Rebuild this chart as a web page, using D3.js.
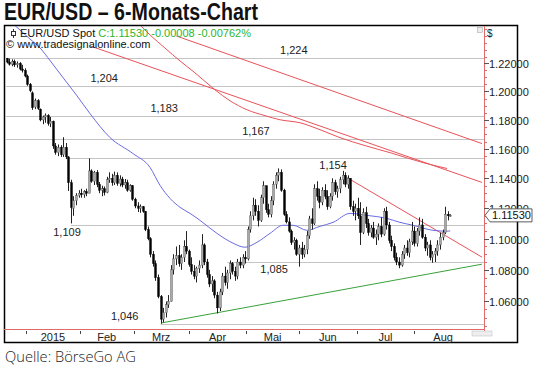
<!DOCTYPE html>
<html><head><meta charset="utf-8">
<script src="https://cdn.jsdelivr.net/npm/d3@7"></script>
<style>body{margin:0;background:#fff}svg{display:block}</style>
</head><body>
<svg id="c" width="540" height="368"></svg>
<script>
// ---------- data ----------
const barOpen = [1.2235,1.2210,1.2195,1.2215,1.2190,1.2200,1.2160,1.2150,1.2110,1.2050,
1.1990,1.1890,1.1935,1.1875,1.1800,1.1820,1.1830,1.1775,1.1790,1.1620,
1.1575,1.1610,1.1560,1.1610,1.1545,1.1370,1.1200,1.1250,1.1285,1.1300,
1.1290,1.1310,1.1300,1.1450,1.1380,1.1440,1.1360,1.1320,1.1330,1.1305,
1.1390,1.1400,1.1370,1.1420,1.1365,1.1395,1.1355,1.1370,1.1320,1.1350,
1.1260,1.1215,1.1200,1.1210,1.1180,1.1060,1.1000,1.0900,1.0840,1.0750,
1.0630,1.0490,1.0530,1.0580,1.0600,1.0800,1.0870,1.0890,1.0840,1.0880,
1.0950,1.0920,1.0835,1.0790,1.0760,1.0810,1.0830,1.0960,1.0850,1.0770,
1.0710,1.0730,1.0640,1.0560,1.0660,1.0760,1.0720,1.0780,1.0840,1.0790,
1.0760,1.0850,1.0830,1.0880,1.0870,1.1060,1.1150,1.1220,1.1180,1.1120,
1.1270,1.1350,1.1190,1.1160,1.1250,1.1360,1.1420,1.1440,1.1320,1.1160,
1.1110,1.1050,1.0975,1.0990,1.0900,1.0940,1.0900,1.0930,1.1020,1.1130,
1.1100,1.1330,1.1280,1.1240,1.1320,1.1280,1.1210,1.1280,1.1370,1.1310,
1.1330,1.1390,1.1420,1.1360,1.1400,1.1210,1.1180,1.1200,1.1150,1.1040,
1.1170,1.1100,1.1040,1.1070,1.1010,1.1030,1.1080,1.1030,1.1180,1.1090,
1.0990,1.0950,1.0880,1.0850,1.0830,1.0900,1.0940,1.0910,1.0980,1.1050,
1.0970,1.1050,1.1090,1.1010,1.0940,1.0960,1.0880,1.0900,1.0920,1.0960,
1.1010,1.1040,1.1160,1.1150];
const barHigh = [1.2240,1.2235,1.2230,1.2228,1.2215,1.2210,1.2190,1.2165,1.2120,1.2060,
1.2000,1.1950,1.1945,1.1880,1.1830,1.1845,1.1840,1.1820,1.1795,1.1640,
1.1630,1.1625,1.1680,1.1640,1.1550,1.1390,1.1280,1.1300,1.1320,1.1330,
1.1320,1.1330,1.1535,1.1460,1.1450,1.1455,1.1375,1.1350,1.1345,1.1410,
1.1440,1.1430,1.1445,1.1440,1.1420,1.1410,1.1395,1.1390,1.1360,1.1355,
1.1270,1.1240,1.1225,1.1215,1.1180,1.1080,1.1010,1.0920,1.0860,1.0770,
1.0640,1.0560,1.0600,1.0640,1.0830,1.0900,1.0950,1.0960,1.0900,1.0990,
1.1050,1.0930,1.0880,1.0830,1.0820,1.0860,1.1030,1.0970,1.0870,1.0800,
1.0760,1.0740,1.0660,1.0680,1.0780,1.0820,1.0800,1.0860,1.0850,1.0820,
1.0870,1.0880,1.0900,1.0920,1.1080,1.1180,1.1270,1.1260,1.1220,1.1290,
1.1380,1.1350,1.1230,1.1280,1.1380,1.1440,1.1467,1.1460,1.1330,1.1180,
1.1140,1.1060,1.1010,1.1000,1.0960,1.0980,1.0960,1.1050,1.1150,1.1200,
1.1360,1.1380,1.1330,1.1340,1.1360,1.1320,1.1300,1.1400,1.1390,1.1350,
1.1410,1.1450,1.1440,1.1420,1.1400,1.1250,1.1230,1.1270,1.1240,1.1200,
1.1210,1.1130,1.1090,1.1110,1.1060,1.1100,1.1140,1.1200,1.1210,1.1110,
1.1020,1.0970,1.0910,1.0880,1.0920,1.0960,1.0990,1.1000,1.1110,1.1080,
1.1070,1.1140,1.1130,1.1030,1.0980,1.0990,1.0920,1.0940,1.0990,1.1040,
1.1060,1.1210,1.1180,1.1160];
const barLow = [1.2200,1.2185,1.2180,1.2175,1.2170,1.2150,1.2135,1.2100,1.2040,1.1995,
1.1870,1.1875,1.1870,1.1790,1.1770,1.1780,1.1760,1.1750,1.1600,1.1560,
1.1550,1.1545,1.1545,1.1530,1.1315,1.1100,1.1150,1.1220,1.1270,1.1270,
1.1270,1.1280,1.1300,1.1370,1.1355,1.1340,1.1300,1.1280,1.1285,1.1300,
1.1370,1.1350,1.1355,1.1350,1.1345,1.1340,1.1330,1.1310,1.1310,1.1250,
1.1200,1.1175,1.1170,1.1170,1.1050,1.0990,1.0880,1.0820,1.0730,1.0620,
1.0462,1.0470,1.0500,1.0560,1.0600,1.0770,1.0830,1.0820,1.0800,1.0850,
1.0900,1.0820,1.0770,1.0740,1.0720,1.0780,1.0810,1.0830,1.0750,1.0690,
1.0660,1.0620,1.0525,1.0540,1.0640,1.0700,1.0680,1.0740,1.0770,1.0730,
1.0740,1.0810,1.0810,1.0840,1.0860,1.1040,1.1120,1.1150,1.1080,1.1110,
1.1230,1.1170,1.1140,1.1140,1.1220,1.1330,1.1380,1.1310,1.1150,1.1100,
1.1040,1.0960,1.0930,1.0890,1.0820,1.0870,1.0880,1.0900,1.1000,1.1060,
1.1090,1.1250,1.1200,1.1220,1.1260,1.1190,1.1200,1.1250,1.1290,1.1270,
1.1300,1.1360,1.1340,1.1330,1.1190,1.1150,1.1120,1.1130,1.0960,1.1030,
1.1070,1.1020,1.1010,1.1000,1.0960,1.0990,1.1010,1.1020,1.1060,1.0970,
1.0920,1.0860,1.0830,1.0810,1.0820,1.0870,1.0890,1.0880,1.0960,1.0950,
1.0950,1.1020,1.1000,1.0920,1.0890,1.0860,1.0845,1.0850,1.0890,1.0930,
1.0990,1.1030,1.1120,1.1145];
const barClose = [1.2210,1.2195,1.2215,1.2190,1.2200,1.2160,1.2150,1.2110,1.2050,1.2005,
1.1885,1.1935,1.1880,1.1800,1.1820,1.1830,1.1775,1.1790,1.1620,1.1575,
1.1610,1.1560,1.1610,1.1545,1.1370,1.1205,1.1250,1.1285,1.1300,1.1290,
1.1310,1.1300,1.1450,1.1380,1.1440,1.1360,1.1320,1.1330,1.1305,1.1390,
1.1400,1.1370,1.1420,1.1365,1.1395,1.1355,1.1370,1.1320,1.1350,1.1260,
1.1215,1.1200,1.1210,1.1180,1.1060,1.1000,1.0900,1.0840,1.0750,1.0630,
1.0490,1.0530,1.0580,1.0600,1.0800,1.0870,1.0890,1.0840,1.0880,1.0950,
1.0920,1.0835,1.0790,1.0760,1.0810,1.0830,1.0960,1.0850,1.0770,1.0710,
1.0730,1.0640,1.0560,1.0660,1.0760,1.0720,1.0780,1.0840,1.0790,1.0760,
1.0850,1.0830,1.0880,1.0870,1.1060,1.1150,1.1220,1.1180,1.1120,1.1270,
1.1350,1.1190,1.1160,1.1250,1.1360,1.1420,1.1440,1.1320,1.1160,1.1110,
1.1050,1.0975,1.0990,1.0900,1.0940,1.0900,1.0930,1.1020,1.1130,1.1100,
1.1330,1.1280,1.1240,1.1320,1.1280,1.1210,1.1280,1.1370,1.1310,1.1330,
1.1390,1.1420,1.1360,1.1400,1.1210,1.1180,1.1200,1.1150,1.1040,1.1170,
1.1100,1.1040,1.1070,1.1010,1.1030,1.1080,1.1030,1.1180,1.1090,1.0990,
1.0950,1.0880,1.0850,1.0830,1.0900,1.0940,1.0910,1.0980,1.1050,1.0970,
1.1050,1.1090,1.1010,1.0940,1.0960,1.0880,1.0900,1.0920,1.0960,1.1010,
1.1040,1.1160,1.1150,1.1153];

// moving averages
const maBlueIdx = [3,9,13,17,22,27.4,32.5,40.3,49.2,55.9,59.8,63.7,67.6,71.5,75.4,82,88.3,92.9,97.6,102.7,107.8,111.7,117.1,122.2,127.3,133.9,140.5,148.3,153.4,158.5,166.3,171.8,173];
const maBlueVal = [1.2480,1.2378,1.2312,1.2218,1.2097,1.1969,1.1843,1.1677,1.1568,1.1473,1.1352,1.1265,1.1206,1.1166,1.1120,1.1035,1.0971,1.0945,1.0977,1.1035,1.1088,1.1088,1.1055,1.1081,1.1107,1.1166,1.1153,1.1133,1.1107,1.1088,1.1055,1.1049,1.1052];
const maRedIdx = [51,55.9,61.7,67.6,73.4,81.2,87.1,93.7,100.7,106.6,114.4,122.2,130,139.8,149.5,162.4,171.8];
const maRedVal = [1.2500,1.2407,1.2312,1.2218,1.2133,1.2012,1.1934,1.1871,1.1830,1.1801,1.1780,1.1732,1.1677,1.1622,1.1574,1.1506,1.1466];

// trend lines: start/end bar index and price
const trendNames = ["B","C","D","support"];
const trendIdx0 = [66.1,32.5,132.7,60.2];
const trendVal0 = [1.2400,1.2327,1.1405,1.0466];
const trendIdx1 = [185.4,185.4,185.4,185.4];
const trendVal1 = [1.1636,1.1372,1.0881,1.0836];

// horizontal levels
const levelValues = [1.224,1.204,1.183,1.167,1.154,1.109,1.085,1.046];
const levelLabels = ["1,224","1,204","1,183","1,167","1,154","1,109","1,085","1,046"];
const levelStartIdx = [-1,-1,-1,-1,23,25,86,60];
const levelLabelIdx = [112,38,61.4,97.2,127.3,23.5,104.3,46];
const levelLabelBelow = [false,false,false,false,true,true,true,false];

// axes
const monthLabels = ["2015","Feb","Mrz","Apr","Mai","Jun","Jul","Aug"];
const monthStartIdx = [7.5,28.5,49.5,71,93.5,114,136.5,159];
const priceTicks = [1.06,1.08,1.10,1.12,1.14,1.16,1.18,1.20,1.22];
const priceRange = [1.0429,1.2473];
const lastPrice = 1.1153;

// ---------- drawing ----------
const svg = d3.select("#c");
const L = 5, R = 484, T = 26, B = 329;
const x = d3.scaleLinear().domain([0, barClose.length-1]).range([6.8, 450.2]);
const y = d3.scaleLog().domain(priceRange).range([B, T]);
const ff = "Liberation Sans, Arial, sans-serif";

svg.append("text").attr("x",4).attr("y",20).text("EUR/USD – 6-Monats-Chart")
  .attr("font-family",ff).attr("font-weight","bold")
  .attr("font-size",23).attr("fill","#111").attr("textLength",254).attr("lengthAdjust","spacingAndGlyphs");

svg.append("rect").attr("x",4.5).attr("y",25.5).attr("width",513).attr("height",317)
  .attr("fill","#fff").attr("stroke","#000").attr("stroke-width",1.5);

const defs = svg.append("defs");
defs.append("clipPath").attr("id","plot")
  .append("rect").attr("x",L).attr("y",T).attr("width",R-L).attr("height",B-T);
const yl = y(lastPrice);
defs.append("clipPath").attr("id","aboveMarker")
  .append("rect").attr("x",R).attr("y",0).attr("width",60).attr("height",yl-6.5);
const g = svg.append("g").attr("clip-path","url(#plot)");

// levels
levelValues.forEach((v,k)=>{
  const x0 = levelStartIdx[k] < 0 ? L : x(levelStartIdx[k]);
  g.append("line").attr("x1",x0).attr("x2",R).attr("y1",Math.round(y(v))+0.5).attr("y2",Math.round(y(v))+0.5)
    .attr("stroke","#c4c4c4").attr("stroke-width",1);
  g.append("text").attr("x",x(levelLabelIdx[k])).attr("y",y(v)+(levelLabelBelow[k]?11:-4))
    .attr("text-anchor","middle").attr("font-family",ff)
    .attr("font-size",11).attr("fill","#222").text(levelLabels[k]);
});

// trend lines
trendNames.forEach((n,k)=>{
  g.append("line").attr("x1",x(trendIdx0[k])).attr("y1",y(trendVal0[k]))
    .attr("x2",x(trendIdx1[k])).attr("y2",y(trendVal1[k]))
    .attr("stroke", n==="support" ? "#3aa03a" : "#e8535a").attr("stroke-width",1);
});

// moving averages
const line = d3.line().x(d=>x(d[0])).y(d=>y(d[1])).curve(d3.curveMonotoneX);
g.append("path").attr("d",line(maRedIdx.map((d,k)=>[d,maRedVal[k]])))
  .attr("fill","none").attr("stroke","#e8535a").attr("stroke-width",1);
g.append("path").attr("d",line(maBlueIdx.map((d,k)=>[d,maBlueVal[k]])))
  .attr("fill","none").attr("stroke","#6b6be0").attr("stroke-width",1);

// candles
const bars = barClose.map((c,i)=>({i,o:barOpen[i],h:barHigh[i],l:barLow[i],c}));
const cg = g.append("g");
cg.selectAll("line.w").data(bars).join("line").attr("class","w")
  .attr("x1",d=>Math.round(x(d.i))+0.5).attr("x2",d=>Math.round(x(d.i))+0.5)
  .attr("y1",d=>y(d.h)).attr("y2",d=>y(d.l)).attr("stroke","#222").attr("stroke-width",1);
cg.selectAll("rect").data(bars).join("rect")
  .attr("x",d=>Math.round(x(d.i))-0.5).attr("width",2)
  .attr("y",d=>y(Math.max(d.o,d.c))).attr("height",d=>Math.max(1,Math.abs(y(d.o)-y(d.c))))
  .attr("fill",d=>d.c>=d.o?"#a8a8a8":"#000").attr("stroke",d=>d.c>=d.o?"#555":"#000").attr("stroke-width",0.4);

// legend
svg.append("line").attr("x1",13.5).attr("x2",13.5).attr("y1",29).attr("y2",38).attr("stroke","#333");
svg.append("rect").attr("x",11.5).attr("y",31.5).attr("width",4).attr("height",4).attr("fill","#fff").attr("stroke","#333");
const lt = svg.append("text").attr("x",20).attr("y",37).attr("font-family",ff).attr("font-size",11);
lt.append("tspan").attr("fill","#111").text("EUR/USD Spot ");
lt.append("tspan").attr("fill","#2db52d").text("C:1.11530 -0.00008 -0.00762%");
svg.append("text").attr("x",6).attr("y",48).attr("font-family",ff).attr("font-size",11).attr("fill","#111")
  .text("© www.tradesignalonline.com");

// axes lines
svg.append("line").attr("x1",4).attr("x2",R).attr("y1",B+0.5).attr("y2",B+0.5).attr("stroke","#e06a6a");
svg.append("line").attr("x1",R+0.5).attr("x2",R+0.5).attr("y1",26).attr("y2",B+4).attr("stroke","#e06a6a");

// x axis
monthStartIdx.forEach((m,k)=>{
  const xm = Math.round(x(m))+0.5;
  svg.append("line").attr("x1",xm).attr("x2",xm).attr("y1",B+2).attr("y2",B+5).attr("stroke","#444");
  const nx = k < monthStartIdx.length-1 ? x(monthStartIdx[k+1]) : x(m)+ (x(m)-x(monthStartIdx[k-1]));
  svg.append("text").attr("x",(x(m)+nx)/2).attr("y",B+12).attr("text-anchor","middle")
    .attr("font-family",ff).attr("font-size",11).attr("fill","#222").text(monthLabels[k]);
});

// y axis
const minor = d3.range(1.045,1.246,0.005);
minor.forEach(v=>{ const yy=Math.round(y(v))+0.5;
  svg.append("line").attr("x1",R).attr("x2",R+3).attr("y1",yy).attr("y2",yy).attr("stroke","#e06a6a"); });
priceTicks.forEach(v=>{
  const yy = Math.round(y(v))+0.5;
  const hidden = Math.abs(y(v)-yl) < 12;
  svg.append("line").attr("x1",R).attr("x2",R+5).attr("y1",yy).attr("y2",yy).attr("stroke","#555");
  const t = svg.append("text").attr("x",R+5).attr("y",yy+4).attr("font-family",ff).attr("font-size",11).attr("fill","#222")
    .text(d3.format(".5f")(v));
  if (hidden) t.attr("clip-path","url(#aboveMarker)");
});
// last price marker
svg.append("path").attr("d",`M${R+1},${yl} L${R+6},${yl-6.5} H${R+48} V${yl+6.5} H${R+6} Z`)
  .attr("fill","#fff").attr("stroke","#333").attr("stroke-width",0.8);
svg.append("text").attr("x",R+8).attr("y",yl+4).attr("font-family",ff).attr("font-size",11).attr("fill","#111")
  .text(d3.format(".5f")(lastPrice));
svg.append("text").attr("x",R+3).attr("y",37).attr("font-family",ff).attr("font-size",10).attr("fill","#222").text("$");
svg.append("rect").attr("x",477.5).attr("y",27.5).attr("width",5).attr("height",5).attr("fill","#eee").attr("stroke","#999").attr("stroke-width",0.5);
svg.append("rect").attr("x",472).attr("y",331).attr("width",20).attr("height",5).attr("fill","#eee").attr("stroke","#bbb").attr("stroke-width",0.5);

svg.append("text").attr("x",5).attr("y",362).attr("font-family","Open Sans, sans-serif").attr("font-weight",300)
  .attr("font-size",15).attr("fill","#222").attr("textLength",131).attr("lengthAdjust","spacingAndGlyphs").text("Quelle: BörseGo AG");
</script>
</body></html>
